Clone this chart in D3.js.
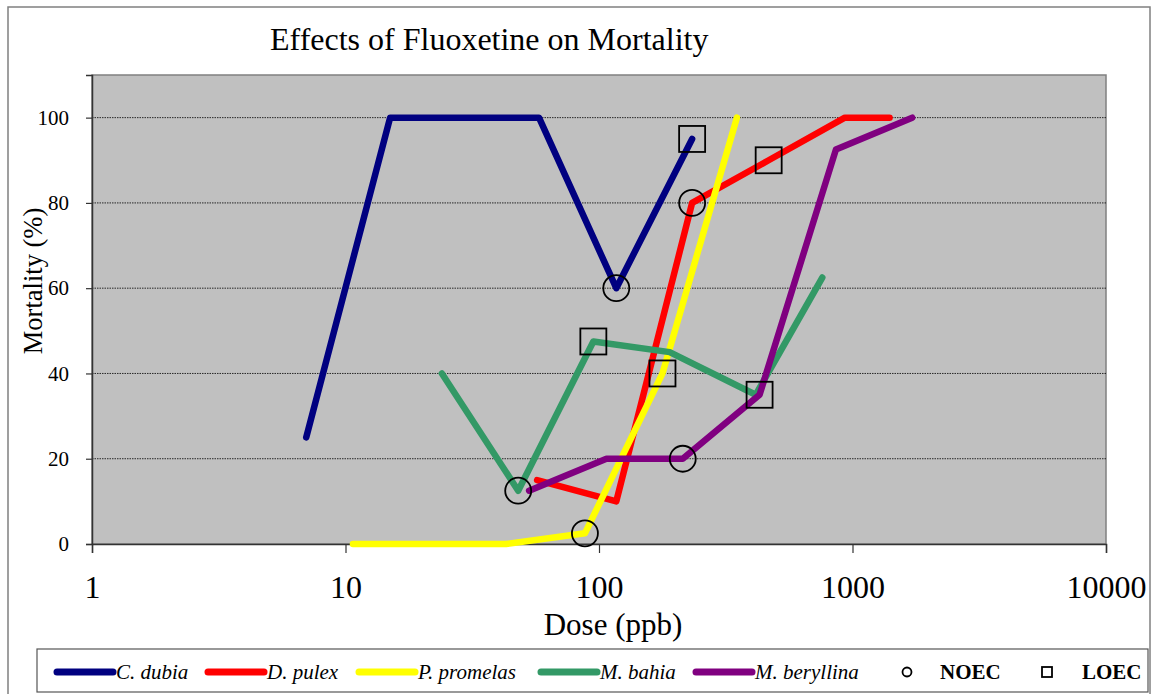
<!DOCTYPE html>
<html>
<head>
<meta charset="utf-8">
<script src="https://cdn.jsdelivr.net/npm/d3@7"></script>
<style>
  body { margin: 0; background: #fff; }
  text { font-family: "Liberation Serif", "Times New Roman", serif; fill: #000; }
</style>
</head>
<body>
<svg id="chart"></svg>
<script>
// series data (dose in ppb, mortality in %)
const species = ["C. dubia", "D. pulex", "P. promelas", "M. bahia", "M. beryllina"];
const colors = ["#000080", "#ff0000", "#ffff00", "#339966", "#800080"];

const cDubiaDose = [7, 15, 58, 117, 233];
const cDubiaMort = [25, 100, 100, 60, 95];
const dPulexDose = [57, 117, 233, 467, 933, 1400];
const dPulexMort = [15, 10, 80, 90, 100, 100];
const pPromelasDose = [10.7, 43, 88, 178, 350];
const pPromelasMort = [0, 0, 2.5, 40, 100];
const mBahiaDose = [24, 48, 95, 190, 415, 760];
const mBahiaMort = [40, 12.5, 47.5, 45, 35, 62.5];
const mBeryllinaDose = [53, 107, 214, 430, 860, 1720];
const mBeryllinaMort = [12.5, 20, 20, 35, 92.5, 100];

const noecDose = [117, 233, 88, 48, 214];
const noecMort = [60, 80, 2.5, 12.5, 20];
const loecDose = [233, 467, 178, 95, 430];
const loecMort = [95, 90, 40, 47.5, 35];

const xTicks = [1, 10, 100, 1000, 10000];
const yTicks = [0, 20, 40, 60, 80, 100];

const seriesDose = [cDubiaDose, dPulexDose, pPromelasDose, mBahiaDose, mBeryllinaDose];
const seriesMort = [cDubiaMort, dPulexMort, pPromelasMort, mBahiaMort, mBeryllinaMort];

const width = 1152;
const height = 694;
const plot = { left: 92, right: 1106, top: 75, bottom: 544 };
const serif = "'Liberation Serif', 'Times New Roman', serif";

const svg = d3.select("#chart")
    .attr("width", width)
    .attr("height", height);

// outer frame
svg.append("rect")
    .attr("x", 8).attr("y", 7)
    .attr("width", 1142).attr("height", 700)
    .attr("fill", "#fff")
    .attr("stroke", "#808080")
    .attr("stroke-width", 1.5);

const x = d3.scaleLog()
    .domain([1, 10000])
    .range([plot.left, plot.right]);

const y = d3.scaleLinear()
    .domain([0, 110])
    .range([plot.bottom, plot.top]);

// plot background
svg.append("rect")
    .attr("x", plot.left).attr("y", plot.top)
    .attr("width", plot.right - plot.left)
    .attr("height", plot.bottom - plot.top)
    .attr("fill", "#c0c0c0")
    .attr("stroke", "#808080")
    .attr("stroke-width", 1.5);

// gridlines
svg.append("g")
    .selectAll("line")
    .data(yTicks.filter(d => d > 0))
    .enter()
    .append("line")
    .attr("x1", plot.left).attr("x2", plot.right)
    .attr("y1", d => y(d)).attr("y2", d => y(d))
    .attr("stroke", "#000")
    .attr("stroke-width", 0.8)
    .attr("stroke-dasharray", "1.5,1");

// y axis
const yAxis = svg.append("g")
    .attr("transform", `translate(${plot.left},0)`)
    .call(d3.axisLeft(y).tickValues(yTicks).tickSize(6).tickPadding(17).tickFormat(d3.format("d")));
yAxis.select(".domain").attr("stroke", "#333").attr("stroke-width", 1.5);
yAxis.selectAll(".tick line").attr("stroke", "#333").attr("stroke-width", 1.2);
yAxis.selectAll("text")
    .style("font-family", serif)
    .style("font-size", "21px")
    .attr("fill", "#000");

// x axis
const xAxis = svg.append("g")
    .attr("transform", `translate(0,${plot.bottom})`)
    .call(d3.axisBottom(x).tickValues(xTicks).tickSize(9).tickPadding(22).tickFormat(d3.format("d")));
xAxis.select(".domain").attr("stroke", "#333").attr("stroke-width", 1.5);
xAxis.selectAll(".tick line").attr("stroke", "#333").attr("stroke-width", 1.2);
xAxis.selectAll("text")
    .style("font-family", serif)
    .style("font-size", "32px")
    .attr("fill", "#000");

// series lines
const line = d3.line()
    .x(d => x(d[0]))
    .y(d => y(d[1]));

species.forEach((name, i) => {
    const pts = seriesDose[i].map((d, j) => [d, seriesMort[i][j]]);
    svg.append("path")
        .datum(pts)
        .attr("d", line)
        .attr("fill", "none")
        .attr("stroke", colors[i])
        .attr("stroke-width", 6.5)
        .attr("stroke-linejoin", "round")
        .attr("stroke-linecap", "round");
});

// NOEC markers
svg.append("g")
    .selectAll("circle")
    .data(noecDose.map((d, i) => [d, noecMort[i]]))
    .enter()
    .append("circle")
    .attr("cx", d => x(d[0]))
    .attr("cy", d => y(d[1]))
    .attr("r", 13)
    .attr("fill", "none")
    .attr("stroke", "#000")
    .attr("stroke-width", 1.8);

// LOEC markers
svg.append("g")
    .selectAll("rect")
    .data(loecDose.map((d, i) => [d, loecMort[i]]))
    .enter()
    .append("rect")
    .attr("x", d => x(d[0]) - 13)
    .attr("y", d => y(d[1]) - 13)
    .attr("width", 26)
    .attr("height", 26)
    .attr("fill", "none")
    .attr("stroke", "#000")
    .attr("stroke-width", 1.8);

// titles
svg.append("text")
    .attr("x", 270).attr("y", 50)
    .style("font-family", serif)
    .style("font-size", "32px")
    .text("Effects of Fluoxetine on Mortality");

svg.append("text")
    .attr("x", 613).attr("y", 635)
    .attr("text-anchor", "middle")
    .style("font-family", serif)
    .style("font-size", "31px")
    .text("Dose (ppb)");

svg.append("text")
    .attr("transform", "translate(42,281) rotate(-90)")
    .attr("text-anchor", "middle")
    .style("font-family", serif)
    .style("font-size", "26.5px")
    .text("Mortality (%)");

// legend
svg.append("rect")
    .attr("x", 37).attr("y", 649)
    .attr("width", 1111).attr("height", 43)
    .attr("fill", "#fff")
    .attr("stroke", "#555")
    .attr("stroke-width", 1.2);

const legendX = [57, 208, 359, 541, 696];
const legendY = 672;
species.forEach((name, i) => {
    svg.append("line")
        .attr("x1", legendX[i]).attr("x2", legendX[i] + 56)
        .attr("y1", legendY).attr("y2", legendY)
        .attr("stroke", colors[i])
        .attr("stroke-width", 7)
        .attr("stroke-linecap", "round");
    svg.append("text")
        .attr("x", legendX[i] + 59).attr("y", legendY + 7)
        .style("font-family", serif)
        .style("font-size", "21px")
        .style("font-style", "italic")
        .text(name);
});

svg.append("circle")
    .attr("cx", 907).attr("cy", legendY)
    .attr("r", 4.5)
    .attr("fill", "none")
    .attr("stroke", "#000")
    .attr("stroke-width", 1.8);
svg.append("text")
    .attr("x", 940).attr("y", legendY + 7)
    .style("font-family", serif)
    .style("font-size", "21px")
    .style("font-weight", "bold")
    .text("NOEC");

svg.append("rect")
    .attr("x", 1042).attr("y", legendY - 5)
    .attr("width", 10).attr("height", 10)
    .attr("fill", "none")
    .attr("stroke", "#000")
    .attr("stroke-width", 1.8);
svg.append("text")
    .attr("x", 1082).attr("y", legendY + 7)
    .style("font-family", serif)
    .style("font-size", "21px")
    .style("font-weight", "bold")
    .text("LOEC");
</script>
</body>
</html>
